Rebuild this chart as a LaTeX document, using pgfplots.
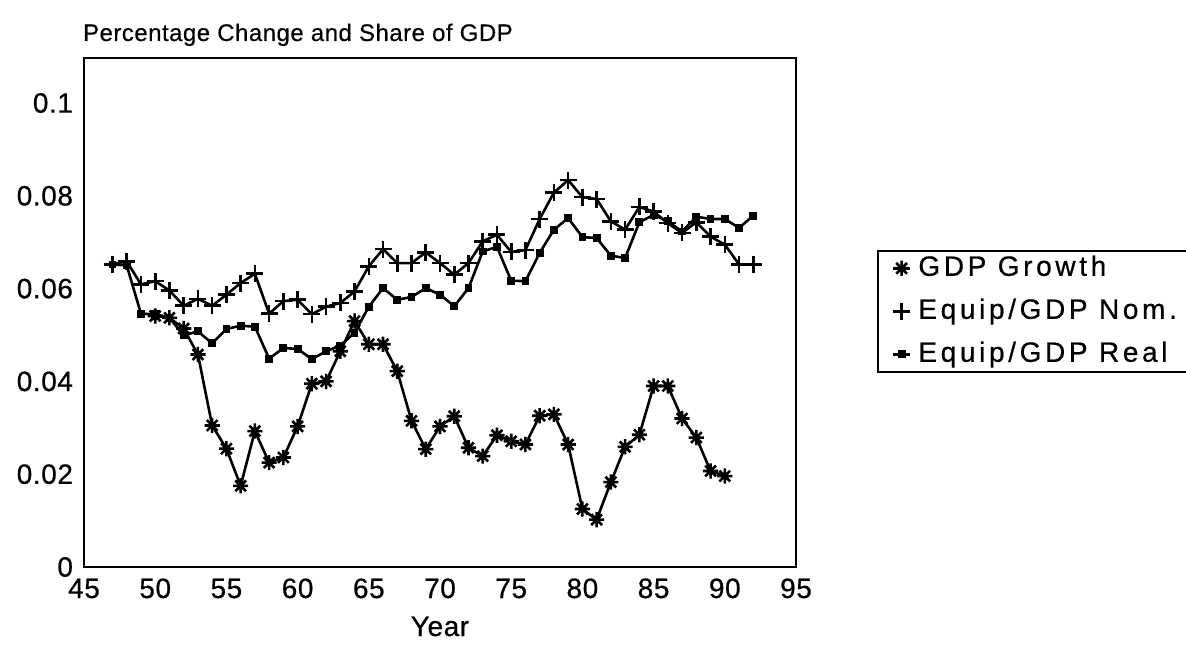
\documentclass[border=0pt]{standalone}
\usepackage{fontspec}
\setmainfont{Liberation Sans}
\newfontfamily\tickfont[LetterSpace=2,FakeBold=0.6]{Liberation Sans}
\newfontfamily\legfont[LetterSpace=13,FakeBold=0.6]{Liberation Sans}
\newfontfamily\titfont[LetterSpace=2,FakeBold=0.4]{Liberation Sans}
\usepackage{pgfplots}
\pgfplotsset{compat=1.18}

% eight-armed asterisk
\pgfdeclareplotmark{ast8}{%
  \pgfpathmoveto{\pgfqpoint{-\pgfplotmarksize}{0pt}}%
  \pgfpathlineto{\pgfqpoint{\pgfplotmarksize}{0pt}}%
  \pgfpathmoveto{\pgfqpoint{0pt}{-\pgfplotmarksize}}%
  \pgfpathlineto{\pgfqpoint{0pt}{\pgfplotmarksize}}%
  \pgfpathmoveto{\pgfqpoint{-0.707\pgfplotmarksize}{-0.707\pgfplotmarksize}}%
  \pgfpathlineto{\pgfqpoint{0.707\pgfplotmarksize}{0.707\pgfplotmarksize}}%
  \pgfpathmoveto{\pgfqpoint{-0.707\pgfplotmarksize}{0.707\pgfplotmarksize}}%
  \pgfpathlineto{\pgfqpoint{0.707\pgfplotmarksize}{-0.707\pgfplotmarksize}}%
  \pgfusepathqstroke}

\pgfplotstableread{
year gdp
50 0.0541
51 0.0537
52 0.0514
53 0.0458
54 0.0305
55 0.0255
56 0.0175
57 0.0293
58 0.0225
59 0.0236
60 0.0303
61 0.0395
62 0.0400
63 0.0465
64 0.0530
65 0.0480
66 0.0480
67 0.0422
68 0.0315
69 0.0254
70 0.0303
71 0.0325
72 0.0257
73 0.0239
74 0.0284
75 0.0271
76 0.0264
77 0.0326
78 0.0329
79 0.0264
80 0.0125
81 0.0102
82 0.0183
83 0.0259
84 0.0285
85 0.0390
86 0.0390
87 0.0320
88 0.0279
89 0.0207
90 0.0196
}\gdptab

\pgfplotstableread{
year nom real
47 0.0652 0.0652
48 0.0659 0.0650
49 0.0609 0.0546
50 0.0616 0.0545
51 0.0596 0.0537
52 0.0563 0.0499
53 0.0578 0.0508
54 0.0563 0.0482
55 0.0587 0.0513
56 0.0612 0.0520
57 0.0632 0.0518
58 0.0546 0.0449
59 0.0573 0.0472
60 0.0576 0.0470
61 0.0545 0.0448
62 0.0561 0.0465
63 0.0569 0.0477
64 0.0594 0.0505
65 0.0648 0.0561
66 0.0685 0.0601
67 0.0655 0.0576
68 0.0655 0.0582
69 0.0678 0.0601
70 0.0655 0.0587
71 0.0630 0.0562
72 0.0655 0.0601
73 0.0702 0.0680
74 0.0716 0.0690
75 0.0679 0.0617
76 0.0683 0.0616
77 0.0750 0.0677
78 0.0807 0.0727
79 0.0834 0.0752
80 0.0797 0.0711
81 0.0793 0.0709
82 0.0745 0.0671
83 0.0727 0.0666
84 0.0776 0.0743
85 0.0766 0.0759
86 0.0741 0.0745
87 0.0720 0.0723
88 0.0743 0.0755
89 0.0712 0.0750
90 0.0695 0.0750
91 0.0652 0.0731
92 0.0652 0.0757
}\equiptab

\begin{document}
\begin{tikzpicture}
\path[use as bounding box] (-42pt,-43.5pt) rectangle (551pt,283.5pt);
\begin{axis}[
  at={(0,0)}, anchor=south west,
  scale only axis, width=356pt, height=254.5pt,
  xmin=45, xmax=95, ymin=0, ymax=0.1097,
  xtick={45,50,...,95},
  ytick={0,0.02,0.04,0.06,0.08,0.1},
  yticklabels={0,0.02,0.04,0.06,0.08,0.1},
  major tick length=0pt,
  axis line style={line width=1.2pt},
  /pgf/number format/assume math mode=true,
  tick label style={font=\tickfont\fontsize{14}{16}\selectfont},
  xticklabel style={anchor=base, yshift=-15.5pt},
  yticklabel style={xshift=-2pt},
  every axis title shift=0pt,
  title={Percentage Change and Share of GDP},
  title style={at={(0,1)}, anchor=base west, yshift=8.5pt, xshift=-4pt,
    font=\titfont\fontsize{12}{14}\selectfont},
  xlabel={Year},
  xlabel style={at={(axis description cs:0.5,0)}, anchor=base, yshift=-34.5pt,
    font=\tickfont\fontsize{14}{16}\selectfont},
  every axis plot/.append style={black, line width=1.3pt},
  legend image code/.code={\draw[mark repeat=2,mark phase=2]
    plot coordinates {(0pt,0pt) (4.25pt,0pt) (8.5pt,0pt)};},
  legend style={at={(1.1138,0.6228)}, anchor=north west,
    draw=black, line width=0.8pt, inner xsep=7pt, inner ysep=0pt,
    font=\legfont\fontsize{14}{16}\selectfont,
    column sep=1pt, row sep=4pt,
    nodes={inner xsep=2.5pt, inner ysep=2.5pt, text height=10pt, text depth=2.5pt}},
  legend cell align=left,
]
\addplot[mark=ast8, mark size=3.8pt] table[x=year, y=gdp] {\gdptab};
\addplot[mark=+, mark size=4.25pt] table[x=year, y=nom] {\equiptab};
\addplot[mark=square*, mark size=1.3pt] table[x=year, y=real] {\equiptab};
\legend{GDP Growth, Equip/GDP Nom., Equip/GDP Real}
\end{axis}
\end{tikzpicture}
\end{document}
